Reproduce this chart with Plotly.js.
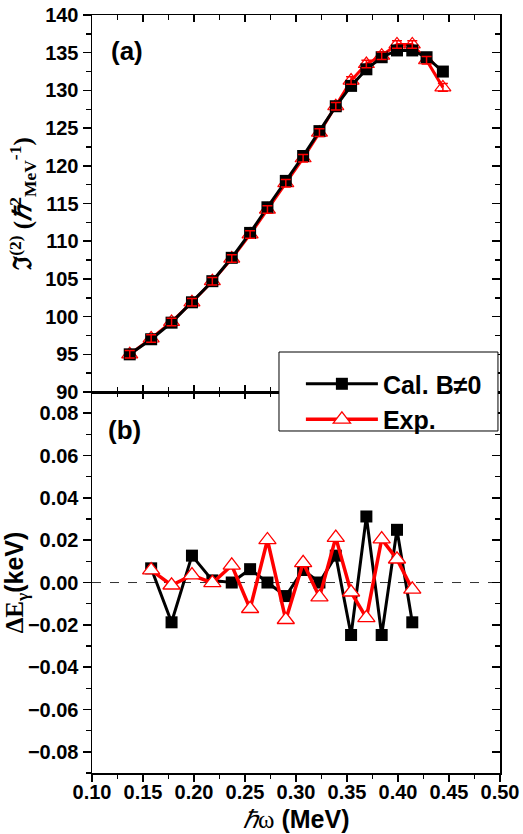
<!DOCTYPE html>
<html>
<head>
<meta charset="utf-8">
<script src="https://cdn.plot.ly/plotly-3.0.1.min.js"></script>
<style>html,body{margin:0;padding:0;background:#fff;}#chart{width:523px;height:834px;}</style>
</head>
<body>
<div id="chart"></div>
<script>
// ---- data ----
var omegaA = [0.137, 0.158, 0.178, 0.198, 0.218, 0.237, 0.255, 0.272, 0.290, 0.307, 0.323, 0.339, 0.354, 0.369, 0.384, 0.399, 0.414, 0.428, 0.444];
var calJ2  = [95.0, 97.0, 99.2, 101.9, 104.7, 107.8, 111.1, 114.5, 118.0, 121.3, 124.6, 127.9, 130.6, 132.8, 134.4, 135.3, 135.3, 134.4, 132.5];
var expJ2  = [95.0, 97.1, 99.3, 101.9, 104.7, 107.7, 110.9, 114.2, 117.7, 121.0, 124.4, 127.9, 131.3, 133.5, 134.6, 136.1, 136.1, 134.0, 130.4];
var expJ2Err = [0.5, 0.5, 0.5, 0.5, 0.5, 0.5, 0.5, 0.5, 0.5, 0.5, 0.5, 0.5, 0.5, 0.5, 0.5, 0.5, 0.5, 0.5, 0.5];

var omegaB = [0.158, 0.178, 0.198, 0.218, 0.237, 0.255, 0.272, 0.290, 0.307, 0.323, 0.339, 0.354, 0.369, 0.384, 0.399, 0.414];
var calDE  = [0.0067, -0.0188, 0.0127, 0.0010, 0.0000, 0.0063, 0.0000, -0.0064, 0.0059, 0.0000, 0.0127, -0.0248, 0.0312, -0.0248, 0.0249, -0.0188];
var expDE  = [0.0059, -0.0013, 0.0035, -0.0002, 0.0081, -0.0124, 0.0201, -0.0176, 0.0093, -0.0069, 0.0212, -0.0046, -0.0167, 0.0205, 0.0110, -0.0032];

var seriesNames = ['Cal. B\u22600', 'Exp.'];
var xTicks = [0.10, 0.15, 0.20, 0.25, 0.30, 0.35, 0.40, 0.45, 0.50];
var topTicks = [90, 95, 100, 105, 110, 115, 120, 125, 130, 135, 140];
var botTicks = [-0.08, -0.06, -0.04, -0.02, 0.00, 0.02, 0.04, 0.06, 0.08];

// ---- traces ----
var BLACK = '#000000', RED = '#ff0000';
var traces = [
  {x: omegaA, y: expJ2, xaxis: 'x', yaxis: 'y', mode: 'lines+markers', showlegend: false,
   line: {color: RED, width: 3}, marker: {symbol: 'triangle-up-open', size: 14, color: RED, line: {width: 1.2, color: RED}}},
  {x: omegaA, y: calJ2, xaxis: 'x', yaxis: 'y', mode: 'lines+markers', showlegend: false,
   line: {color: BLACK, width: 3}, marker: {symbol: 'square', size: 12, color: BLACK}},
  {x: omegaA, y: expJ2, xaxis: 'x', yaxis: 'y', mode: 'markers', showlegend: false, hoverinfo: 'skip',
   marker: {size: 1, color: 'rgba(0,0,0,0)'},
   error_y: {type: 'data', array: expJ2Err, visible: true, color: RED, thickness: 1.5, width: 5}},
  {x: omegaB, y: calDE, xaxis: 'x2', yaxis: 'y2', mode: 'lines+markers', name: seriesNames[0],
   line: {color: BLACK, width: 3}, marker: {symbol: 'square', size: 12, color: BLACK}},
  {x: omegaB, y: expDE, xaxis: 'x2', yaxis: 'y2', mode: 'lines+markers', name: seriesNames[1],
   line: {color: RED, width: 3.5}, marker: {symbol: 'triangle-up', size: 15, color: '#ffffff', line: {width: 1.3, color: RED}}},
  {x: [0.1], y: [90], xaxis: 'x3', yaxis: 'y3', mode: 'markers', marker: {opacity: 0}, showlegend: false, hoverinfo: 'skip'},
  {x: [0.1], y: [0], xaxis: 'x4', yaxis: 'y4', mode: 'markers', marker: {opacity: 0}, showlegend: false, hoverinfo: 'skip'},
  {x: [0.1], y: [0], xaxis: 'x5', yaxis: 'y2', mode: 'markers', marker: {opacity: 0}, showlegend: false, hoverinfo: 'skip'}
];

var tickFont = {family: 'Liberation Sans, Arial, sans-serif', size: 20, color: '#000', weight: 'bold'};
var splitTop = 0.5026;
var xRange = [0.1, 0.5];
function baseX(extra) {
  return Object.assign({range: xRange, tickvals: xTicks, showline: true, linecolor: '#000', linewidth: 1.5,
    showgrid: false, zeroline: false, ticklen: 7, tickwidth: 1.5, tickcolor: '#000', fixedrange: true}, extra);
}
function baseY(extra) {
  return Object.assign({showline: true, linecolor: '#000', linewidth: 1.5,
    showgrid: false, zeroline: false, ticklen: 8, tickwidth: 1.5, tickcolor: '#000', fixedrange: true}, extra);
}

var layout = {
  width: 523, height: 834,
  margin: {l: 92, r: 23, t: 15, b: 61},
  paper_bgcolor: '#fff', plot_bgcolor: '#fff',
  font: {family: 'Liberation Sans, Arial, sans-serif', color: '#000'},
  showlegend: true,
  legend: {x: 0.512, y: 0.5435, xanchor: 'left', yanchor: 'top', bgcolor: 'rgba(0,0,0,0)', borderwidth: 0,
           font: {family: 'Liberation Sans, Arial, sans-serif', size: 25, color: '#000', weight: 'bold'},
           itemwidth: 72, tracegroupgap: 0},
  xaxis: baseX({anchor: 'y', domain: [0, 1], ticks: 'inside', showticklabels: false,
                minor: {ticks: 'inside', dtick: 0.025, ticklen: 5, tickwidth: 1.5, tickcolor: '#000'}}),
  yaxis: baseY({anchor: 'x', domain: [splitTop, 1], range: [90, 140], tickvals: topTicks, ticks: 'outside',
                tickfont: tickFont, minor: {ticks: 'outside', dtick: 2.5, ticklen: 5, tickwidth: 1.5, tickcolor: '#000'},
                title: {text: '\u2111<sup>(2)</sup> (<i>\u210F</i><sup>2</sup><sub>MeV</sub><sup>-1</sup>)', standoff: 6,
                        font: {family: 'Liberation Serif, Times New Roman, serif', size: 25, color: '#000', weight: 'bold'}}}),
  xaxis3: baseX({overlaying: 'x', anchor: 'y', side: 'top', ticks: 'inside', showticklabels: false,
                minor: {ticks: 'inside', dtick: 0.025, ticklen: 5, tickwidth: 1.5, tickcolor: '#000'}}),
  yaxis3: baseY({overlaying: 'y', anchor: 'x', side: 'right', range: [90, 140], tickvals: topTicks, ticks: 'inside', showticklabels: false,
                minor: {ticks: 'inside', dtick: 2.5, ticklen: 5, tickwidth: 1.5, tickcolor: '#000'}}),
  // bottom x axis carries labels only (ticks drawn by xaxis5)
  xaxis2: baseX({anchor: 'y2', domain: [0, 1], ticks: '', tickfont: tickFont, tickformat: '.2f'}),
  xaxis5: baseX({overlaying: 'x2', anchor: 'y2', side: 'bottom', ticks: 'outside', showticklabels: false,
                minor: {ticks: 'outside', dtick: 0.025, ticklen: 4, tickwidth: 1.5, tickcolor: '#000'}}),
  yaxis2: baseY({anchor: 'x2', domain: [0, splitTop], range: [-0.09, 0.09], tickvals: botTicks, ticks: 'outside',
                tickformat: '.2f', tickfont: tickFont,
                minor: {ticks: 'outside', dtick: 0.01, ticklen: 5, tickwidth: 1.5, tickcolor: '#000'},
                title: {text: '<span style="font-family:Liberation Serif">\u0394E<sub>\u03B3</sub></span>(keV)', standoff: 0,
                        font: {family: 'Liberation Sans, Arial, sans-serif', size: 25, color: '#000', weight: 'bold'}}}),
  xaxis4: baseX({overlaying: 'x2', anchor: 'y2', side: 'top', ticks: 'inside', showticklabels: false,
                minor: {ticks: 'inside', dtick: 0.025, ticklen: 5, tickwidth: 1.5, tickcolor: '#000'}}),
  yaxis4: baseY({overlaying: 'y2', anchor: 'x2', side: 'right', range: [-0.09, 0.09], tickvals: botTicks, ticks: 'inside', showticklabels: false,
                minor: {ticks: 'inside', dtick: 0.01, ticklen: 5, tickwidth: 1.5, tickcolor: '#000'}}),
  shapes: [
    {type: 'line', xref: 'x2', yref: 'y2', x0: 0.1, x1: 0.5, y0: 0, y1: 0, layer: 'below',
     line: {color: '#333', width: 1, dash: 'dash'}},
    {type: 'rect', xref: 'paper', yref: 'paper', x0: 0.4583, x1: 0.995, y0: 0.4512, y1: 0.5554, layer: 'above',
     fillcolor: '#ffffff', line: {color: '#000', width: 1}}
  ],
  annotations: [
    {text: '(a)', xref: 'paper', yref: 'paper', x: 0.042, y: 0.953, xanchor: 'left', yanchor: 'middle', showarrow: false,
     font: {family: 'Liberation Sans, Arial, sans-serif', size: 26, color: '#000', weight: 'bold'}},
    {text: '(b)', xref: 'paper', yref: 'paper', x: 0.034, y: 0.452, xanchor: 'left', yanchor: 'middle', showarrow: false,
     font: {family: 'Liberation Sans, Arial, sans-serif', size: 26, color: '#000', weight: 'bold'}},
    {text: '<span style="font-family:Liberation Serif;font-weight:normal"><i>\u210F</i>\u03C9</span> (MeV)',
     xref: 'paper', yref: 'paper', x: 0.5, y: -0.0607, xanchor: 'center', yanchor: 'middle', showarrow: false,
     font: {family: 'Liberation Sans, Arial, sans-serif', size: 25, color: '#000', weight: 'bold'}}
  ]
};

Plotly.newPlot('chart', traces, layout, {staticPlot: true, displayModeBar: false});
</script>
</body>
</html>
